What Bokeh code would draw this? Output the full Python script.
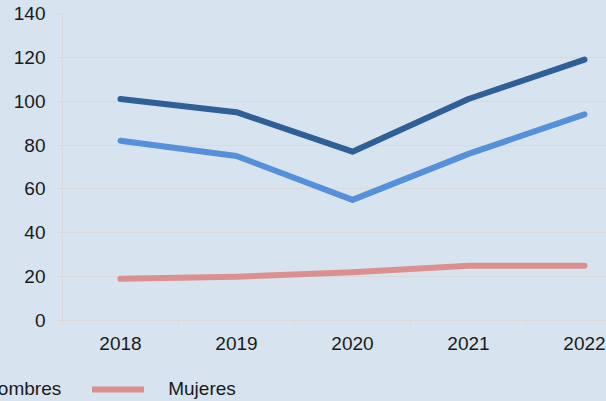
import numpy as np
from bokeh.plotting import figure
from bokeh.layouts import column
from bokeh.models import Range1d, FixedTicker, Legend, LegendItem
from bokeh.embed import file_html
from bokeh.resources import INLINE

years = ["2018", "2019", "2020", "2021", "2022"]
total = [101, 95, 77, 101, 119]
hombres = [82, 75, 55, 76, 94]
mujeres = [19, 20, 22, 25, 25]
y_ticks = [0, 20, 40, 60, 80, 100, 120, 140]
series_names = ["Total", "Hombres", "Mujeres"]
series_colors = ["#2e5f96", "#5591db", "#db9090"]

BG = "#d7e3ef"
GRID = "#d9d9d9"
FONT = "Liberation Sans"
FS = "19px"
LW = 6

xs = list(range(len(years)))

p = figure(width=606, height=360, output_backend="svg", toolbar_location=None,
           x_range=Range1d(-0.5, 4.19), y_range=Range1d(0, 140),
           min_border_left=62, min_border_right=0, min_border_top=13, min_border_bottom=40)
p.background_fill_color = BG
p.border_fill_color = BG
p.outline_line_color = None
p.frame_align = False

for vals, col in zip([total, hombres, mujeres], series_colors):
    p.line(xs, vals, line_color=col, line_width=LW, line_cap="round", line_join="round")

# y axis
ya = p.yaxis[0]
ya.ticker = FixedTicker(ticks=y_ticks)
ya.axis_line_color = GRID
ya.major_tick_line_color = GRID
ya.major_tick_out = 5
ya.major_tick_in = 0
ya.minor_tick_line_color = None
ya.major_label_standoff = 12
ya.major_label_text_font = FONT
ya.major_label_text_font_size = FS
ya.major_label_text_color = "#1a1a1a"

# x axis
xa = p.xaxis[0]
xa.ticker = FixedTicker(ticks=xs, minor_ticks=[i - 0.5 for i in range(len(years) + 1)])
xa.major_label_overrides = {i: y for i, y in enumerate(years)}
xa.axis_line_color = GRID
xa.major_tick_line_color = None
xa.major_tick_out = 0
xa.major_tick_in = 0
xa.minor_tick_line_color = GRID
xa.minor_tick_out = 5
xa.minor_tick_in = 0
xa.major_label_standoff = 11
xa.major_label_text_font = FONT
xa.major_label_text_font_size = FS
xa.major_label_text_color = "#1a1a1a"

p.xgrid.grid_line_color = None
p.ygrid.grid_line_color = GRID
p.ygrid.ticker = FixedTicker(ticks=y_ticks)

# legend strip (the reference shows it cut off on the left)
lg = figure(width=606, height=41, output_backend="svg", toolbar_location=None,
            x_range=Range1d(0, 1), y_range=Range1d(0, 1),
            x_axis_type=None, y_axis_type=None,
            min_border_left=0, min_border_right=0, min_border_top=0, min_border_bottom=0)
lg.background_fill_color = BG
lg.border_fill_color = BG
lg.outline_line_color = None
lg.xgrid.grid_line_color = None
lg.ygrid.grid_line_color = None
lg.frame_align = False

items = []
for name, col in zip(series_names, series_colors):
    r = lg.line(x=np.array([np.nan]), y=np.array([np.nan]), line_color=col, line_width=LW, line_cap="round")
    items.append(LegendItem(label=name, renderers=[r]))

legend = Legend(items=items, location=(-239, 1), orientation="horizontal",
                glyph_width=52, glyph_height=20, label_standoff=24, spacing=31,
                padding=0, margin=0, border_line_color=None, background_fill_alpha=0,
                label_text_font=FONT, label_text_font_size=FS, label_text_color="#1a1a1a")
lg.add_layout(legend, "center")

layout = column(p, lg, spacing=0, styles={"background-color": BG})
open("out.html", "w").write(file_html(layout, INLINE))
